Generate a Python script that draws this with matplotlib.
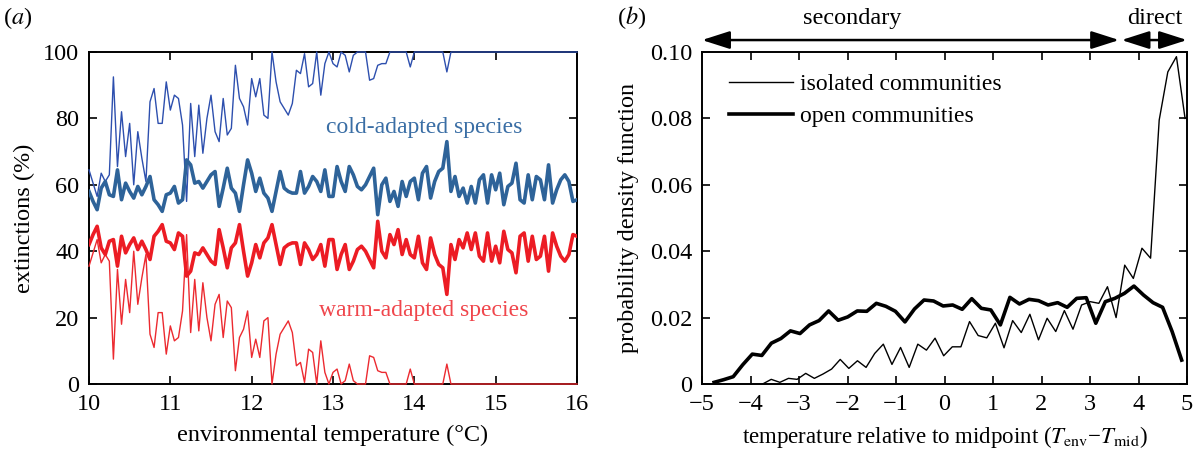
import numpy as np
import matplotlib
matplotlib.use("Agg")
import matplotlib.pyplot as plt

plt.rcParams['font.family'] = ['Liberation Serif', 'DejaVu Serif']
plt.rcParams['mathtext.fontset'] = 'stix'
plt.rcParams['font.size'] = 17.5

# panel (a): extinctions vs environmental temperature
temp = np.linspace(10, 16, 121)
cold_open = [58, 55, 52.5, 59, 61, 57, 56.5, 64.5, 55.5, 60.5,
             58, 56, 59.5, 57, 59.5, 62.5, 55.5, 54, 52, 57,
             57.5, 59.5, 54.5, 55.5, 67.5, 66, 60.5, 61, 59, 61,
             63, 64, 53.5, 59, 65, 59, 57.5, 52, 60, 67.5,
             63.5, 58, 62, 57.5, 56, 52, 58, 64, 59, 58,
             57.5, 57.5, 64, 57.5, 59.5, 62.5, 61, 58, 64.5, 56.5,
             56.5, 65.5, 61, 58, 65.5, 63, 59.5, 58.5, 60, 62.5,
             65, 51, 60, 62, 55, 58, 53.5, 61, 56.5, 61,
             62, 55.5, 63.5, 65.5, 56, 61, 64, 65, 73, 58,
             62.5, 56.5, 59, 54.5, 59.5, 54.5, 61.5, 63, 54.5, 63,
             58.5, 63.5, 54, 59.5, 60.5, 66.5, 55.5, 54.5, 63, 55.5,
             62.5, 61.5, 55.5, 66, 54.5, 58.5, 61.5, 63, 61, 55, 55.5]
warm_open = [42, 45, 47.5, 41, 39, 43, 43.5, 35.5, 44.5, 39.5,
             42, 44, 40.5, 43, 40.5, 37.5, 44.5, 46, 48, 43,
             42.5, 40.5, 45.5, 44.5, 32.5, 34, 39.5, 39, 41, 39,
             37, 36, 46.5, 41, 35, 41, 42.5, 48, 40, 32.5,
             36.5, 42, 38, 42.5, 44, 48, 42, 36, 41, 42,
             42.5, 42.5, 36, 42.5, 40.5, 37.5, 39, 42, 35.5, 43.5,
             43.5, 34.5, 39, 42, 34.5, 37, 40.5, 41.5, 40, 37.5,
             35, 49, 40, 38, 45, 42, 46.5, 39, 43.5, 39,
             38, 44.5, 36.5, 34.5, 44, 39, 36, 35, 27, 42,
             37.5, 43.5, 41, 45.5, 40.5, 45.5, 38.5, 37, 45.5, 37,
             41.5, 36.5, 46, 40.5, 39.5, 33.5, 44.5, 45.5, 37, 44.5,
             37.5, 38.5, 44.5, 34, 45.5, 41.5, 38.5, 37, 39, 45, 44.5]
cold_iso = [64.5, 60.5, 56.5, 63.5, 61, 63, 92.5, 65.5, 82, 68.5,
            78.5, 60, 76, 68, 61, 85, 89, 78.5, 78.5, 91,
            82.5, 87, 86, 78, 55, 84.5, 68.5, 84, 69.5, 80,
            87, 76, 73, 86, 75, 77, 96, 86, 83.5, 78,
            92, 86.5, 92, 81, 80, 100, 91, 85, 83, 81,
            84.5, 94.5, 93.5, 99.5, 89.5, 90.5, 100, 87, 96.5, 100,
            96.5, 95.5, 100, 99, 94, 99, 100, 100, 100, 91.5,
            92, 96, 96.5, 96.5, 100, 100, 100, 100, 100, 95.5,
            100, 100, 100, 100, 100, 100, 100, 100, 94, 100,
            100, 100, 100, 100, 100, 100, 100, 100, 100, 100,
            100, 100, 100, 100, 100, 100, 100, 100, 100, 100,
            100, 100, 100, 100, 100, 100, 100, 100, 100, 100, 100]
warm_iso = [35.5, 39.5, 43.5, 36.5, 39, 37, 7.5, 34.5, 18, 31.5,
            21.5, 40, 24, 32, 39, 15, 11, 21.5, 21.5, 9,
            17.5, 13, 14, 22, 45, 15.5, 31.5, 16, 30.5, 20,
            13, 24, 27, 14, 25, 23, 4, 14, 16.5, 22,
            8, 13.5, 8, 19, 20, 0, 9, 15, 17, 19,
            15.5, 5.5, 6.5, 0.5, 10.5, 9.5, 0, 13, 3.5, 0,
            3.5, 4.5, 0, 1, 6, 1, 0, 0, 0, 8.5,
            8, 4, 3.5, 3.5, 0, 0, 0, 0, 0, 4.5,
            0, 0, 0, 0, 0, 0, 0, 0, 6, 0,
            0, 0, 0, 0, 0, 0, 0, 0, 0, 0,
            0, 0, 0, 0, 0, 0, 0, 0, 0, 0,
            0, 0, 0, 0, 0, 0, 0, 0, 0, 0, 0]

# panel (b): probability density of temperature relative to midpoint
x_iso = np.linspace(-3.75, 4.96, 50)
pdf_iso = [0, 0.0014, 0.0005, 0.0017, 0.0014, 0.0032, 0.0017, 0.003, 0.0045, 0.0074,
           0.0047, 0.007, 0.005, 0.0092, 0.012, 0.0059, 0.011, 0.005, 0.012, 0.0102,
           0.0138, 0.0085, 0.0112, 0.0112, 0.0188, 0.0146, 0.0139, 0.0183, 0.0109, 0.0191,
           0.0155, 0.021, 0.0133, 0.0198, 0.0158, 0.0221, 0.0165, 0.0238, 0.0248, 0.0243,
           0.0293, 0.02, 0.0358, 0.0318, 0.0409, 0.0379, 0.0795, 0.094, 0.0986, 0.080]
x_open = np.linspace(-4.75, 4.89, 50)
pdf_open = [0.0005, 0.0013, 0.0022, 0.0058, 0.009, 0.0086, 0.0123, 0.0137, 0.016, 0.0152,
            0.0178, 0.0191, 0.022, 0.0192, 0.0202, 0.022, 0.0219, 0.0243, 0.0234, 0.0219,
            0.0187, 0.0226, 0.0253, 0.025, 0.0235, 0.0238, 0.0225, 0.0257, 0.0228, 0.0223,
            0.0178, 0.0261, 0.0241, 0.0255, 0.0251, 0.0238, 0.0245, 0.0231, 0.0258, 0.026,
            0.0183, 0.0248, 0.0258, 0.0273, 0.0295, 0.0268, 0.0245, 0.0231, 0.0158, 0.0072]

cold_thick = '#2e6399'
cold_thin = '#2d4fae'
warm_thick = '#ec1c24'
warm_thin = '#ec2a30'

fig = plt.figure(figsize=(11.99, 4.57), dpi=100)
ax1 = fig.add_axes([89/1199, 73/457, 488/1199, 332/457])
ax2 = fig.add_axes([702/1199, 73/457, 485/1199, 332/457])

for ax in (ax1, ax2):
    ax.tick_params(direction='in', top=True, right=True, length=6, width=1.2, pad=7, labelsize=17.5)
    for s in ax.spines.values():
        s.set_linewidth(1.4)

ax1.plot(temp, cold_iso, color=cold_thin, lw=1.0, clip_on=False, zorder=3)
ax1.plot(temp, warm_iso, color=warm_thin, lw=1.0, clip_on=False, zorder=3)
ax1.plot(temp, cold_open, color=cold_thick, lw=2.6, zorder=4)
ax1.plot(temp, warm_open, color=warm_thick, lw=2.6, zorder=4)
ax1.set_xlim(10, 16)
ax1.set_ylim(0, 100)
ax1.set_xticks(range(10, 17))
ax1.set_yticks(range(0, 101, 20))
ax1.set_xlabel('environmental temperature (°C)', labelpad=7)
ax1.set_ylabel('extinctions (%)', labelpad=6)
ax1.text(14.12, 77.4, 'cold-adapted species', color='#3a6ea5', ha='center', va='center', fontsize=17)
ax1.text(14.12, 22, 'warm-adapted species', color='#f0464c', ha='center', va='center', fontsize=17)

ax2.plot(x_iso, pdf_iso, color='black', lw=1.0, label='isolated communities')
ax2.plot(x_open, pdf_open, color='black', lw=2.6, label='open communities')
ax2.set_xlim(-5, 5)
ax2.set_ylim(0, 0.1)
ax2.set_xticks(range(-5, 6))
ax2.set_xticklabels(['\u22125', '\u22124', '\u22123', '\u22122', '\u22121', '0', '1', '2', '3', '4', '5'])
ax2.set_yticks([0, 0.02, 0.04, 0.06, 0.08, 0.10])
ax2.set_yticklabels(['0', '0.02', '0.04', '0.06', '0.08', '0.10'])
ax2.set_xlabel('temperature relative to midpoint ($T_{\\rm env}$\u2212$T_{\\rm mid}$)',
               labelpad=7, fontsize=16.5)
ax2.set_ylabel('probability density function', labelpad=8)
ax2.legend(loc='upper left', frameon=False, handlelength=2.7, handletextpad=0.3,
           labelspacing=0.45, bbox_to_anchor=(0.012, 1.0), fontsize=17)

arrow_y = 1.036
head = '<|-|>,head_length=1.0,head_width=0.32'
ax2.annotate('', xy=(-5, arrow_y), xytext=(3.6, arrow_y),
             xycoords=('data', 'axes fraction'), textcoords=('data', 'axes fraction'),
             arrowprops=dict(arrowstyle=head, mutation_scale=17, lw=1.8, color='black',
                             shrinkA=0, shrinkB=0),
             annotation_clip=False)
ax2.annotate('', xy=(3.65, arrow_y), xytext=(5, arrow_y),
             xycoords=('data', 'axes fraction'), textcoords=('data', 'axes fraction'),
             arrowprops=dict(arrowstyle=head, mutation_scale=17, lw=1.8, color='black',
                             shrinkA=0, shrinkB=0),
             annotation_clip=False)
ax2.text(-1.9, 1.10, 'secondary', transform=ax2.get_xaxis_transform(), ha='center', va='center', fontsize=17.5)
ax2.text(4.33, 1.10, 'direct', transform=ax2.get_xaxis_transform(), ha='center', va='center', fontsize=17.5)

fig.text(18/1199, 1 - 18/457, r'($a$)', ha='center', va='center', fontsize=17.5)
fig.text(632/1199, 1 - 18/457, r'($b$)', ha='center', va='center', fontsize=17.5)

fig.savefig('out.png', dpi=100)
